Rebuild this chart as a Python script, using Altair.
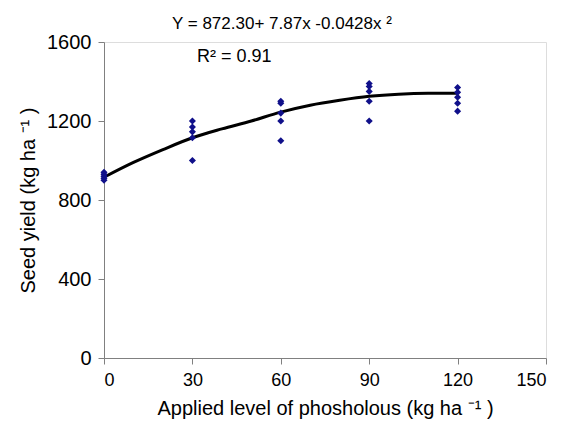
import altair as alt
import pandas as pd

# observed points
px = [0]*5 + [30]*5 + [60]*5 + [90]*5 + [120]*5
py = [940, 930, 920, 910, 900,
      1200, 1170, 1145, 1115, 1000,
      1300, 1290, 1240, 1200, 1100,
      1390, 1375, 1350, 1300, 1200,
      1370, 1345, 1320, 1290, 1250]

# fitted curve as drawn
cx = [0, 10, 20, 30, 40, 50, 60, 70, 80, 90, 100, 110, 120]
cy = [915, 990, 1055, 1115, 1160, 1200, 1245, 1280, 1305, 1325, 1336, 1340, 1340]

equation = "Y = 872.30+ 7.87x -0.0428x ²"
r2 = "R²  = 0.91"

pts = pd.DataFrame({"x": px, "y": py})
curve = pd.DataFrame({"x": cx, "y": cy})

FONT = "Liberation Sans"

xs = alt.Scale(domain=[0, 150], nice=False)
ys = alt.Scale(domain=[0, 1600], nice=False)

xaxis = alt.Axis(values=[0, 30, 60, 90, 120, 150], grid=False, format="d",
                 title="Applied level of phosholous (kg ha   ⁻¹ )",
                 titleFont=FONT, titleFontSize=20, titleFontWeight="normal",
                 titleColor="black", titlePadding=9,
                 labelFont=FONT, labelFontSize=18, labelColor="black",
                 domainColor="#808080", tickColor="#808080", tickSize=6,
                 labelPadding=7, labelOverlap=False)
yaxis = alt.Axis(values=[0, 400, 800, 1200, 1600], grid=False, format="d",
                 title="Seed yield (kg ha   ⁻¹ )",
                 titleFont=FONT, titleFontSize=20, titleFontWeight="normal",
                 titleColor="black", titlePadding=8,
                 labelFont=FONT, labelFontSize=20, labelColor="black",
                 domainColor="#808080", tickColor="#808080", tickSize=6,
                 labelPadding=7, labelOverlap=False)

line = alt.Chart(curve).mark_line(color="black", strokeWidth=3, interpolate="monotone").encode(
    x=alt.X("x:Q", scale=xs, axis=xaxis),
    y=alt.Y("y:Q", scale=ys, axis=yaxis),
)

points = alt.Chart(pts).mark_point(shape="diamond", filled=True, color="#10108a",
                                     size=50, opacity=1).encode(
    x=alt.X("x:Q", scale=xs),
    y=alt.Y("y:Q", scale=ys),
)

eq = alt.Chart(pd.DataFrame({"t": [equation]})).mark_text(
    font=FONT, fontSize=17, color="black", align="left", baseline="middle"
).encode(x=alt.value(68), y=alt.value(-18), text="t:N")

rr = alt.Chart(pd.DataFrame({"t": [r2]})).mark_text(
    font=FONT, fontSize=18, color="black", align="left", baseline="middle"
).encode(x=alt.value(93), y=alt.value(15), text="t:N")

chart = alt.layer(line, points, eq, rr).properties(
    width=442, height=316,
    autosize=alt.AutoSizeParams(type="none"),
    padding={"left": 96, "top": 34, "right": 10, "bottom": 66},
).configure_view(stroke=None).configure(background="white")

chart.save("out.html", embed_options={"renderer": "svg", "actions": False})
